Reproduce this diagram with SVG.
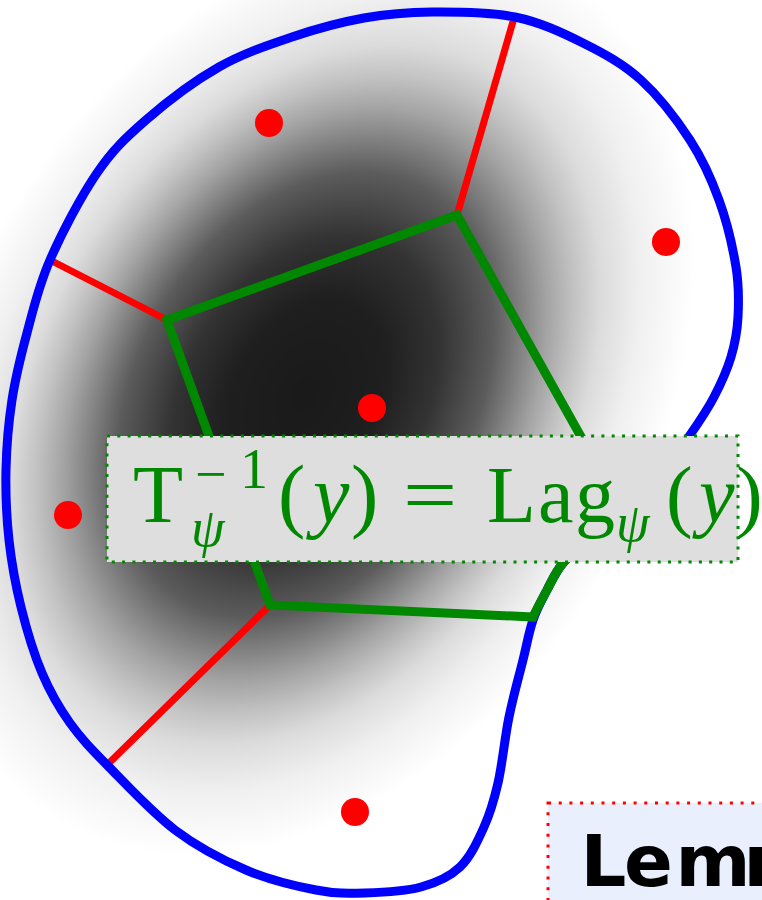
<svg xmlns="http://www.w3.org/2000/svg" width="762" height="900" viewBox="0 0 762 900">
<style>
.math{font-family:"Liberation Serif","DejaVu Serif",serif;fill:#008800}
.it{font-style:italic}
.red{stroke:#ff0000;stroke-width:7;fill:none}
.dot{fill:#ff0000}
</style>
<defs>
<radialGradient id="dens" gradientUnits="userSpaceOnUse" cx="0" cy="0" r="1.45" gradientTransform="translate(305,395) rotate(-60) scale(340,240)">
<stop offset="0" stop-color="#000" stop-opacity="0.9"/>
<stop offset="0.207" stop-color="#000" stop-opacity="0.88"/>
<stop offset="0.345" stop-color="#000" stop-opacity="0.8"/>
<stop offset="0.483" stop-color="#000" stop-opacity="0.64"/>
<stop offset="0.552" stop-color="#000" stop-opacity="0.5"/>
<stop offset="0.621" stop-color="#000" stop-opacity="0.36"/>
<stop offset="0.69" stop-color="#000" stop-opacity="0.24"/>
<stop offset="0.759" stop-color="#000" stop-opacity="0.14"/>
<stop offset="0.862" stop-color="#000" stop-opacity="0.06"/>
<stop offset="1" stop-color="#000" stop-opacity="0"/>
</radialGradient>
</defs>
<rect width="762" height="900" fill="#ffffff"/>
<rect id="density" width="762" height="900" fill="url(#dens)"/>
<g id="connectors">
<path class="red" d="M457,215 L514,18"/>
<path class="red" d="M167,320 L50,260"/>
<path class="red" d="M270,605 L107,765"/>
</g>
<g id="domain">
<path fill="none" stroke="#0000ff" stroke-width="9" d="M432,12 C457.2,11.8 489.8,11.8 515,17 C540.2,22.2 562,32.5 583,43 C604,53.5 623.2,63.8 641,80 C658.8,96.2 677,120 690,140 C703,160 711.3,178.8 719,200 C726.7,221.2 732.8,247.5 736,267 C739.2,286.5 738.8,302 738,317 C737.2,332 735,343.7 731,357 C727,370.3 720.8,384 714,397 C707.2,410 698.2,423.2 690,435 C681.8,446.8 675,456.5 665,468 C655,479.5 642.2,492.7 630,504 C617.8,515.3 603.2,526.2 592,536 C580.8,545.8 570.5,554 563,563 C555.5,572 552,580.5 547,590 C542,599.5 537,608.3 533,620 C529,631.7 527,643.8 523,660 C519,676.2 513.2,696.5 509,717 C504.8,737.5 502.2,764.7 498,783 C493.8,801.3 490.3,813 484,827 C477.7,841 470.5,857 460,867 C449.5,877 436.8,882.7 421,887 C405.2,891.3 382.5,892.5 365,893 C347.5,893.5 335.8,893.8 316,890 C296.2,886.2 269.5,880 246,870 C222.5,860 197.8,847.2 175,830 C152.2,812.8 126.5,784.8 109,767 C91.5,749.2 81.2,738.7 70,723 C58.8,707.3 50.2,692.3 42,673 C33.8,653.7 26.5,629.2 21,607 C15.5,584.8 11.5,562.8 9,540 C6.5,517.2 5.5,493.3 6,470 C6.5,446.7 8.5,422.8 12,400 C15.5,377.2 20.7,356.3 27,333 C33.3,309.7 38.3,286.7 50,260 C61.7,233.3 81,196.3 97,173 C113,149.7 125.7,137.7 146,120 C166.3,102.3 194.7,80.8 219,67 C243.3,53.2 267.8,45.2 292,37 C316.2,28.8 340.7,22.2 364,18 C387.3,13.8 406.8,12.2 432,12 Z"/>
</g>
<g id="laguerre-cell">
<path fill="none" stroke="#008800" stroke-width="9" stroke-linejoin="miter" d="M457,215 L622,510 C610,520 600,528 592,536 C580.8,545.8 570.5,554 563,563 C555.5,572 552,580.5 547,590 C542,599.5 537,608.3 533,617 L270,605 L167,320 Z"/>
</g>
<g id="points">
<circle class="dot" cx="269" cy="123" r="14"/>
<circle class="dot" cx="666" cy="242" r="14"/>
<circle class="dot" cx="372" cy="408" r="14"/>
<circle class="dot" cx="68" cy="515" r="14"/>
<circle class="dot" cx="355" cy="812" r="14"/>
</g>
<g id="label">
<rect x="107" y="436" width="631" height="126" fill="#dedede" stroke="#008800" stroke-width="3" stroke-dasharray="3 7.3"/>
<text class="math" font-size="82"><tspan x="133" y="522">T</tspan><tspan x="195" y="493" font-size="56">−</tspan><tspan x="240" y="488" font-size="56">1</tspan><tspan class="it" x="191" y="546" font-size="54">ψ</tspan><tspan x="278" y="522">(</tspan><tspan class="it" x="313" y="522">y</tspan><tspan x="351" y="522">)</tspan></text>
<text class="math" font-size="80" transform="translate(403,522) scale(1.2,1)">=</text>
<text class="math" font-size="80"><tspan x="487 538 575" y="522">Lag</tspan><tspan class="it" x="616" y="541" font-size="54">ψ</tspan><tspan x="666" y="522">(</tspan><tspan class="it" x="699" y="522">y</tspan><tspan x="736" y="522">)</tspan></text>
</g>
<g id="lemma">
<rect x="548" y="803" width="400" height="200" fill="#e9effd" stroke="#ff0000" stroke-width="3" stroke-dasharray="3 7.7"/>
<text x="580.5 624 675.5 743.5" y="886" font-family="'DejaVu Sans',sans-serif" font-weight="bold" font-size="72" fill="#000000">Lemm</text>
</g>
</svg>
